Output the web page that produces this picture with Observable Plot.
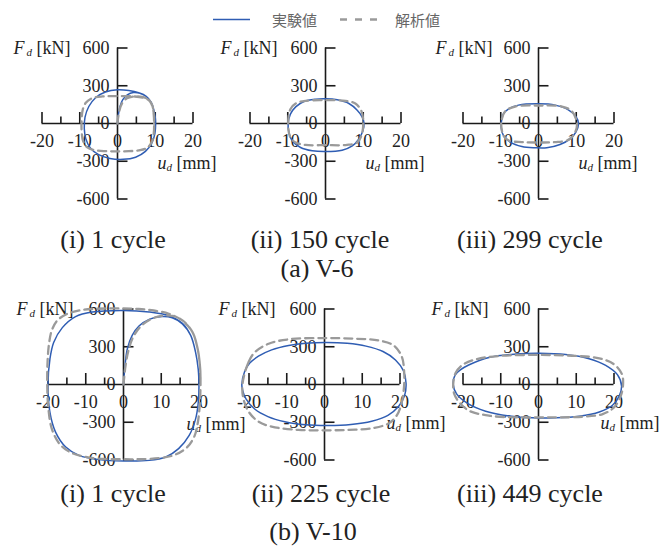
<!DOCTYPE html>
<html><head><meta charset="utf-8">
<script src="https://cdn.jsdelivr.net/npm/d3@7"></script>
<script src="https://cdn.jsdelivr.net/npm/@observablehq/plot@0.6"></script>
<style>
body{margin:0;background:#fff;}
#root{position:relative;width:670px;height:547px;overflow:hidden;font-family:"Liberation Serif","Times New Roman",serif;}
.panel{position:absolute;}
.cap{position:absolute;font-size:26px;color:#222;transform:translate(-50%,-50%);white-space:nowrap;line-height:1;}
</style></head><body><div id="root"></div>
<script>
// ---- tick data ----
const xTicksMajor = [-20, -10, 10, 20];
const xTicksMinor = [-15, -5, 5, 15];
const xTickLabels = [-20, -10, 0, 10, 20];
const yTicks = [-600, -300, 300, 600];
const yTickLabels = [-600, -300, 0, 300, 600];

const legendLabels = ["実験値", "解析値"];
const panelCaptions = ["(i) 1 cycle", "(ii) 150 cycle", "(iii) 299 cycle", "(i) 1 cycle", "(ii) 225 cycle", "(iii) 449 cycle"];
const groupCaptions = ["(a) V-6", "(b) V-10"];

// ---- series: [u_d (mm), F_d (kN)] ----
const expA1 = [[0,0],[0.2,60],[0.6,130],[1.4,190],[2.6,228],[4.2,246],[6,240],[7.6,215],[8.9,170],[9.6,110],[10,50],[10.1,0],[9.9,-80],[9.1,-155],[7.4,-222],[4.8,-268],[1.5,-285],[-2,-278],[-5,-248],[-7.2,-195],[-8.4,-120],[-8.8,-40],[-8.6,50],[-7.6,135],[-5.8,205],[-3.2,250],[0,268],[3,262],[5.6,244],[7.6,215],[8.9,170],[9.6,110],[10.1,0]];
const anaA1 = [[0,0],[0.4,90],[1.2,160],[2.5,200],[4.5,215],[6.5,212],[8.2,190],[9.2,145],[9.6,70],[9.7,0],[9.6,-80],[9.1,-145],[8,-190],[6,-212],[3,-220],[0,-222],[-3,-220],[-6,-212],[-8,-190],[-9.1,-140],[-9.5,-60],[-9.5,30],[-9.2,110],[-8.4,165],[-6.8,200],[-4,215],[0,218],[4,216],[6.8,205],[8.5,180],[9.3,130],[9.7,50],[9.7,0]];

const expA2 = [[-9.9,0],[-9.3,74],[-7.9,132],[-5.7,175],[-2.6,193],[0,196],[3.1,188],[6.2,159],[8.4,106],[9.7,53],[10.2,0],[9.9,-58],[8.8,-125],[7.1,-178],[4.4,-212],[0,-223],[-3.5,-217],[-6.6,-191],[-8.8,-138],[-9.7,-72]];
const anaA2 = [[-9.9,0],[-9.3,114],[-7.9,159],[-5.3,180],[0,185],[5.3,180],[7.9,159],[9.5,100],[10,0],[9.5,-98],[8.4,-151],[5.7,-170],[0,-172],[-5.3,-170],[-7.9,-151],[-9.3,-111]];

const expA3 = [[-9.9,-29],[-9.7,37],[-9.3,77],[-7.9,117],[-5.3,146],[0,156],[4.4,146],[7.9,109],[9.9,56],[10.6,0],[9.9,-69],[8.4,-122],[5.7,-167],[2.2,-193],[-0.9,-193],[-4.4,-183],[-7.5,-148],[-9.3,-95]];
const anaA3 = [[-9.9,0],[-9.7,37],[-8.8,98],[-6.2,135],[0,143],[6.2,135],[8.8,98],[10.2,0],[9.5,-82],[7.9,-130],[4.4,-148],[0,-151],[-4.4,-148],[-7.9,-135],[-9.3,-95]];

const expB1 = [[0,0],[0.4,148],[1.0,281],[2.3,390],[4.1,465],[6.8,518],[10.3,540],[12.9,530],[15.6,482],[17.8,390],[19.1,255],[19.8,120],[20,0],[19.8,-145],[19.1,-273],[17.4,-405],[14.6,-510],[11.2,-576],[6.8,-603],[0,-608],[-6.5,-597],[-11.8,-563],[-15.3,-497],[-18,-378],[-19.5,-220],[-20,0],[-19.5,200],[-18.5,334],[-16.2,452],[-12.7,540],[-8.3,576],[0,589],[6.8,576],[12.1,545],[15.6,487],[17.8,390],[19.1,255],[19.8,120],[20,0]];
const anaB1 = [[0,0],[0.5,140],[1.3,270],[2.6,380],[4.5,460],[7,515],[10,545],[13,545],[15.8,505],[18.2,420],[19.6,290],[20.3,130],[20.4,0],[20.2,-160],[19.7,-300],[18.8,-410],[16.8,-500],[13.5,-560],[9.5,-585],[4,-594],[0,-594],[-5,-592],[-10,-575],[-14,-540],[-17,-470],[-19,-350],[-19.9,-190],[-20.2,0],[-20.1,190],[-19.7,330],[-19,430],[-17.5,510],[-15,560],[-11.5,590],[-7,602],[0,604],[4,600],[8,588],[12,562],[15.5,510],[18.2,420],[19.6,290],[20.3,130],[20.4,0]];

const expB2 = [[-21.9,0],[-21.2,100],[-19.8,170],[-17.5,225],[-14,275],[-9.5,310],[-5,328],[0.5,334],[6,327],[11,305],[15.5,262],[18.8,195],[20.9,110],[21.6,10],[21.2,-90],[19.6,-175],[16.8,-245],[12.5,-292],[7,-318],[1,-326],[-5,-320],[-10.5,-296],[-15,-255],[-18.5,-195],[-20.8,-115],[-21.7,-45]];
const anaB2 = [[-21.7,8],[-20.1,179],[-18.4,258],[-14.8,324],[-9.5,359],[0,369],[8.1,364],[14.3,351],[18.3,311],[20.5,219],[21.1,100],[21.1,-5],[20.5,-137],[19.2,-243],[17,-309],[12.5,-348],[6.4,-361],[0,-364],[-6.9,-361],[-14,-335],[-17.5,-295],[-20.1,-216],[-21.5,-111]];

const expB3 = [[-22.6,3],[-22.1,75],[-20.6,118],[-18.5,155],[-13.1,215],[-6,242],[0.2,248],[7.2,238],[13.4,205],[17.8,152],[20.9,78],[22,-11],[21.4,-90],[19.6,-165],[16.1,-218],[10.8,-252],[4.6,-265],[-1.6,-265],[-7.8,-250],[-14,-212],[-18.8,-150],[-21.7,-75]];
const anaB3 = [[-22.6,0],[-21.9,95],[-20.1,156],[-16.6,200],[-10.4,227],[0,235],[9.9,227],[16.1,208],[20,161],[22.1,82],[22.4,3],[21.8,-90],[20,-182],[17,-235],[11.7,-256],[2.8,-261],[-6,-261],[-13.1,-248],[-18.4,-208],[-21,-142],[-22.3,-77]];

// ---- styles ----
const BLUE = "#2f5db3", GRAY = "#9a9a9a", AX = "#1a1a1a", TXT = "#222";
const root = document.getElementById("root");

const panels = [
  {exp: expA1, ana: anaA1, closed: false, cx: 117, cy: 123, uDx: 40, uDy: 40, fOff: 0},
  {exp: expA2, ana: anaA2, closed: true, cx: 325, cy: 123, uDx: 40, uDy: 40, fOff: -1},
  {exp: expA3, ana: anaA3, closed: true, cx: 538, cy: 123, uDx: 40, uDy: 40, fOff: 1},
  {exp: expB1, ana: anaB1, closed: false, cx: 122.5, cy: 383.5, uDx: 63, uDy: 40, fOff: -3},
  {exp: expB2, ana: anaB2, closed: true, cx: 324, cy: 384, uDx: 62, uDy: 39, fOff: -2},
  {exp: expB3, ana: anaB3, closed: true, cx: 538, cy: 384, uDx: 62, uDy: 39, fOff: -3},
];

const S = 240, O = 120, HALF = 75.5;
const kNperPx = 1200 / (2 * HALF), mmPerPx = 40 / (2 * HALF);

panels.forEach(p => {
  const curve = p.closed ? "catmull-rom-closed" : "catmull-rom";
  const fx = -104 + p.fOff;
  const chart = Plot.plot({
    width: S, height: S, margin: 0,
    x: {domain: [-20, 20], range: [O - HALF, O + HALF], axis: null},
    y: {domain: [-600, 600], range: [O + HALF, O - HALF], axis: null},
    style: {fontFamily: "Liberation Serif", overflow: "visible", background: "transparent"},
    marks: [
      Plot.ruleY([0], {x1: -20, x2: 20, stroke: AX, strokeWidth: 1.6}),
      Plot.ruleX([0], {y1: -600, y2: 600, stroke: AX, strokeWidth: 1.6}),
      Plot.ruleX(xTicksMajor, {x: d => d, y1: 0, y2: 11 * kNperPx, stroke: AX, strokeWidth: 1.6}),
      Plot.ruleX(xTicksMinor, {x: d => d, y1: 0, y2: 6.5 * kNperPx, stroke: AX, strokeWidth: 1.6}),
      Plot.ruleY(yTicks, {y: d => d, x1: 0, x2: 10.5 * mmPerPx, stroke: AX, strokeWidth: 1.6}),
      Plot.text(xTickLabels, {x: d => d, y: 0, dy: 18, text: d => String(d), fontSize: 18, fill: TXT}),
      Plot.text(yTickLabels, {x: 0, y: d => d, dx: -8, textAnchor: "end", text: d => String(d), fontSize: 18, fill: TXT}),
      Plot.text(["F"], {x: 0, y: 600, dx: fx, textAnchor: "start", fontStyle: "italic", fontSize: 18, fill: TXT}),
      Plot.text(["d"], {x: 0, y: 600, dx: fx + 13, dy: 4, textAnchor: "start", fontStyle: "italic", fontSize: 11, fill: TXT}),
      Plot.text(["[kN]"], {x: 0, y: 600, dx: fx + 23, textAnchor: "start", fontSize: 18, fill: TXT}),
      Plot.text(["u"], {x: 0, y: 0, dx: p.uDx, dy: p.uDy, textAnchor: "start", fontStyle: "italic", fontSize: 18, fill: TXT}),
      Plot.text(["d"], {x: 0, y: 0, dx: p.uDx + 9, dy: p.uDy + 4, textAnchor: "start", fontStyle: "italic", fontSize: 11, fill: TXT}),
      Plot.text(["[mm]"], {x: 0, y: 0, dx: p.uDx + 19, dy: p.uDy, textAnchor: "start", fontSize: 18, fill: TXT}),
      Plot.line(p.exp, {x: d => d[0], y: d => d[1], stroke: BLUE, strokeWidth: 1.5, curve}),
      Plot.line(p.ana, {x: d => d[0], y: d => d[1], stroke: GRAY, strokeWidth: 2.3, strokeDasharray: "8,5", curve}),
    ]
  });
  const div = document.createElement("div");
  div.className = "panel";
  div.style.left = (p.cx - O) + "px";
  div.style.top = (p.cy - O) + "px";
  div.appendChild(chart);
  root.appendChild(div);
});

// captions
const capPos = [[113,240],[320,240],[530,240],[113,494],[321,494],[530,494]];
panelCaptions.forEach((t, i) => {
  const d = document.createElement("div");
  d.className = "cap"; d.textContent = t;
  d.style.left = capPos[i][0] + "px"; d.style.top = capPos[i][1] + "px";
  root.appendChild(d);
});
const gPos = [[317,269],[313,532]];
groupCaptions.forEach((t, i) => {
  const d = document.createElement("div");
  d.className = "cap"; d.textContent = t;
  d.style.left = gPos[i][0] + "px"; d.style.top = gPos[i][1] + "px";
  root.appendChild(d);
});

// legend
const ns = "http://www.w3.org/2000/svg";
const lg = document.createElementNS(ns, "svg");
lg.setAttribute("width", 670); lg.setAttribute("height", 40);
lg.style.position = "absolute"; lg.style.left = "0px"; lg.style.top = "0px";
lg.innerHTML =
  `<line x1="213" x2="250" y1="19.5" y2="19.5" stroke="${BLUE}" stroke-width="1.6"/>` +
  `<text x="272" y="19.5" dominant-baseline="central" font-family="Noto Sans CJK JP" font-size="15" fill="#666">${legendLabels[0]}</text>` +
  `<line x1="340" x2="378" y1="19.5" y2="19.5" stroke="${GRAY}" stroke-width="2.5" stroke-dasharray="7,8"/>` +
  `<text x="395" y="19.5" dominant-baseline="central" font-family="Noto Sans CJK JP" font-size="15" fill="#666">${legendLabels[1]}</text>`;
root.appendChild(lg);
</script>
</body></html>
